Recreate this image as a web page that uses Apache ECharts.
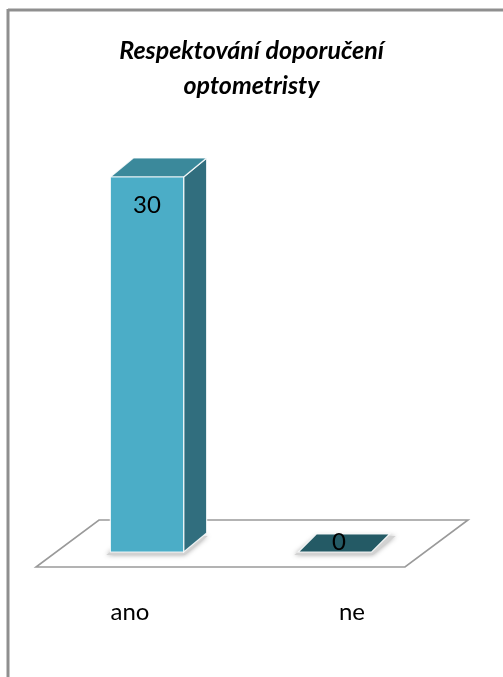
<!DOCTYPE html>
<html>
<head>
<meta charset="utf-8">
<script src="https://cdn.jsdelivr.net/npm/echarts@6/dist/echarts.min.js"></script>
<style>
html,body{margin:0;padding:0;background:#fff;}
#chart{width:503px;height:677px;}
</style>
</head>
<body>
<div id="chart"></div>
<script>
const titleText = 'Respektování doporučení\noptometristy';
const categories = ['ano', 'ne'];
const values = [30, 0];
const yMax = 30;

const FONT = 'Lato';
const DX = 23, DY = -19;

function renderFloor(params, api) {
  const a = api.coord([0, 0]);
  const b = api.coord([categories.length - 1, 0]);
  const fl = [a[0] - 111, a[1] + 15];
  const fr = [b[0] + 70, b[1] + 15];
  const bdx = 63, bdy = -47;
  return {
    type: 'polygon',
    shape: { points: [fl, fr, [fr[0] + bdx, fr[1] + bdy], [fl[0] + bdx, fl[1] + bdy]] },
    style: { fill: '#ffffff', stroke: '#9a9a9a', lineWidth: 1.6 }
  };
}

function renderBar(params, api) {
  const cat = api.value(0), v = api.value(1);
  const base = api.coord([cat, 0]);
  const top = api.coord([cat, v]);
  const bw = api.size([1, 0])[0] * 0.39;
  const x1 = base[0] - bw / 2, x2 = base[0] + bw / 2;
  const yb = base[1], yt = top[1];
  const children = [];
  children.push({
    type: 'polygon',
    shape: { points: [[x1 - 4, yb + 3], [x2 + 1, yb + 3], [x2 + DX + 1, yb + DY + 3], [x1 + DX - 4, yb + DY + 3]] },
    style: { fill: '#d2d2d2', shadowBlur: 5, shadowColor: 'rgba(0,0,0,0.35)' }
  });
  if (v > 0) {
    children.push({
      type: 'polygon',
      shape: { points: [[x2, yt], [x2 + DX, yt + DY], [x2 + DX, yb + DY], [x2, yb]] },
      style: { fill: '#316E7E', stroke: 'rgba(255,255,255,0.85)', lineWidth: 1.2 }
    });
    children.push({
      type: 'polygon',
      shape: { points: [[x1, yt], [x1 + DX, yt + DY], [x2 + DX, yt + DY], [x2, yt]] },
      style: { fill: '#3B899B', stroke: 'rgba(255,255,255,0.85)', lineWidth: 1.2 }
    });
    children.push({
      type: 'rect',
      shape: { x: x1, y: yt, width: bw, height: yb - yt },
      style: { fill: '#4BADC7', stroke: 'rgba(255,255,255,0.85)', lineWidth: 1.2 }
    });
    children.push({
      type: 'text',
      style: { text: String(v), x: base[0], y: yt + 28, align: 'center', verticalAlign: 'middle',
        fontFamily: FONT, fontSize: 24, fill: '#000' }
    });
  } else {
    children.push({
      type: 'polygon',
      shape: { points: [[x1, yt], [x2, yt], [x2 + DX - 5, yt + DY + 1], [x1 + DX - 5, yt + DY + 1]] },
      style: { fill: '#245A65', stroke: 'rgba(255,255,255,0.9)', lineWidth: 1.2 }
    });
    children.push({
      type: 'text',
      style: { text: String(v), x: base[0] + 4, y: yt - 10, align: 'center', verticalAlign: 'middle',
        fontFamily: FONT, fontSize: 24, fill: '#000' }
    });
  }
  return { type: 'group', children: children };
}

const chart = echarts.init(document.getElementById('chart'), null, { renderer: 'canvas' });
chart.setOption({
  backgroundColor: '#ffffff',
  animation: false,
  title: {
    text: titleText,
    left: 'center',
    top: 28,
    textStyle: { fontFamily: FONT, fontSize: 25, fontWeight: 'bold', fontStyle: 'italic', color: '#000', lineHeight: 35 }
  },
  graphic: [
    { type: 'line', shape: { x1: 8, y1: 10, x2: 503, y2: 10 }, style: { stroke: '#8f8f8f', lineWidth: 3 } },
    { type: 'line', shape: { x1: 8, y1: 9, x2: 8, y2: 677 }, style: { stroke: '#8f8f8f', lineWidth: 3 } }
  ],
  grid: [
    { left: 53, right: 74, top: 177, bottom: 125 },
    { left: 19, right: 40, top: 592, height: 1 }
  ],
  xAxis: [
    { type: 'category', gridIndex: 0, data: categories, show: false },
    { type: 'category', gridIndex: 1, data: categories,
      axisLine: { show: false }, axisTick: { show: false },
      axisLabel: { fontFamily: FONT, fontSize: 24, color: '#000', margin: 7 } }
  ],
  yAxis: [
    { type: 'value', gridIndex: 0, min: 0, max: yMax, show: false },
    { type: 'value', gridIndex: 1, show: false }
  ],
  series: [
    { type: 'custom', xAxisIndex: 0, yAxisIndex: 0, data: [[0, 0]], renderItem: renderFloor, z: 1, silent: true },
    { type: 'custom', xAxisIndex: 0, yAxisIndex: 0, data: categories.map((c, i) => [i, values[i]]), renderItem: renderBar, z: 2 }
  ]
});
</script>
</body>
</html>
